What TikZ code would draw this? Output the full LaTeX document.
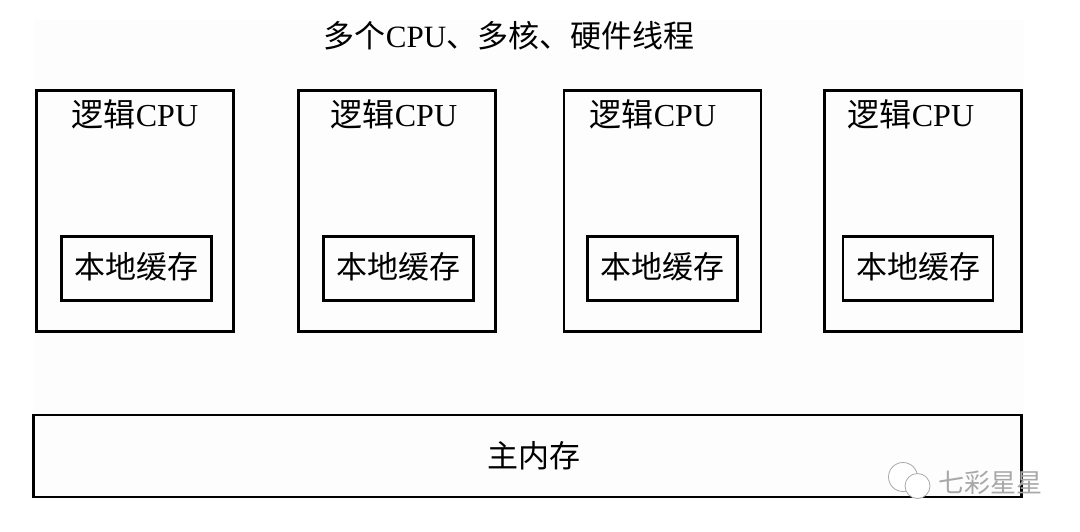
\documentclass[tikz,border=0pt]{standalone}
\usepackage{fontspec}
\usepackage{tikz}
\setmainfont{Liberation Serif}
\newfontfamily\cjk{Noto Sans CJK SC}
\definecolor{bgcol}{HTML}{FDFDFD}
\definecolor{wmcol}{HTML}{A8A8A8}
\tikzset{
  cpubox/.style={draw, line width=2.5pt, minimum width=197pt, minimum height=241pt, inner sep=0pt},
  cachebox/.style={draw, line width=2.5pt, minimum width=150pt, minimum height=64pt, inner sep=0pt},
  cjklabel/.style={font=\fontsize{31}{31}\selectfont\cjk, inner sep=0pt},
  cpulabel/.style={font=\fontsize{32}{32}\selectfont, inner sep=0pt},
  bubble/.style={draw=wmcol, fill=white, circle, line width=0.8pt, inner sep=0pt},
}
\begin{document}
\begin{tikzpicture}[x=1pt, y=-1pt]
  \useasboundingbox (0, 0) rectangle (1080, 531);
  \fill [white] (0, 0) rectangle (1080, 531);
  \fill [bgcol] (34, 20) rectangle (1024, 497);
  \node [font=\fontsize{31}{31}\selectfont, inner sep=0pt] (title) at (509, 36) {{\cjk 多个}CPU{\cjk 、多核、硬件线程}};
  % cpu boxes
  \foreach \name/\x/\cx/\lx in {a/135/136.5/135, b/397/398.5/394, c/662.5/662.5/653, d/923/918/911} {
    \node [cpubox] (cpu\name) at (\x, 211) {};
    \node [cpulabel] (lab\name) at (\lx, 114.5) {{\cjk 逻辑}CPU};
    \node [cachebox] (cache\name) at (\cx, 268.5) {};
    \node [cjklabel] (text\name) at (\cx, 266.5) {本地缓存};
  }
  \node [draw, line width=2.5pt, minimum width=988pt, minimum height=82pt, inner sep=0pt] (mem) at (527.5, 456) {};
  \node [cjklabel] (memtext) at (534, 456) {主内存};
  % watermark
  \node [bubble, minimum size=29pt] (bubblea) at (903, 477) {};
  \node [bubble, minimum size=25pt] (bubbleb) at (917.5, 486) {};
  \node [font=\fontsize{26}{26}\selectfont\cjk, text=wmcol, inner sep=0pt] (mark) at (990, 483) {七彩星星};
\end{tikzpicture}
\end{document}
